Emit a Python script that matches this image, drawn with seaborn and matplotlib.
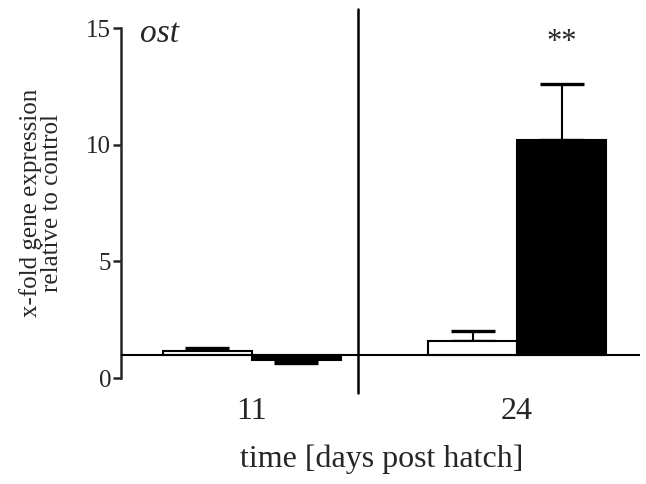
import pandas as pd
import matplotlib
matplotlib.use('Agg')
import matplotlib.pyplot as plt
import seaborn as sns

# values (x-fold relative to control, baseline = 1)
days = ['11', '24']
groups = ['control', 'treated']
control_mean = [1.15, 1.60]
control_err = [0.13, 0.42]
treated_mean = [0.76, 10.2]
treated_err = [0.10, 2.40]
y_ticks = [0, 5, 10, 15]

BASE = 1.0
WIDTH = 0.67


def build_df():
    rows = []
    for i, d in enumerate(days):
        rows.append({'day': d, 'group': 'control', 'fold': control_mean[i]})
        rows.append({'day': d, 'group': 'treated', 'fold': treated_mean[i]})
    df = pd.DataFrame(rows)
    df['height'] = df['fold'] - BASE  # bars drawn from the baseline at 1
    return df


def main():
    sns.set_style('ticks')
    plt.rcParams['font.family'] = ['Liberation Serif', 'DejaVu Serif']

    df = build_df()
    fig = plt.figure(figsize=(6.46, 4.84), dpi=100)
    ax = fig.add_axes([0.187, 0.219, 0.804, 0.723])

    sns.barplot(data=df, x='day', y='height', hue='group', hue_order=groups,
                order=days, palette={'control': 'white', 'treated': 'black'},
                saturation=1, width=WIDTH, errorbar=None, edgecolor='black',
                linewidth=1.5, bottom=BASE, legend=False, ax=ax, zorder=3)

    # one-sided error bars (away from the baseline)
    off = WIDTH / 4
    for i in range(len(days)):
        for sign, mean, err in ((-1, control_mean[i], control_err[i]),
                                (1, treated_mean[i], treated_err[i])):
            yerr = [[0], [err]] if mean >= BASE else [[err], [0]]
            ax.errorbar(i + sign * off, mean, yerr=yerr, fmt='none',
                        ecolor='black', elinewidth=1.5, capsize=16,
                        capthick=2.4, zorder=2)

    ax.axhline(BASE, color='black', lw=1.5, zorder=4)
    ax.axvline(0.4, ymin=-0.043, ymax=1.054, color='black', lw=1.8, clip_on=False)

    ax.set_ylim(0, 15)
    ax.set_xlim(-0.494, 1.464)
    ax.set_yticks(y_ticks)
    sns.despine(ax=ax, bottom=True)
    ax.spines['left'].set_linewidth(1.8)
    ax.tick_params(axis='y', length=6, width=1.8, labelsize=18, pad=1)
    ax.tick_params(axis='x', length=0, labelsize=23, pad=14)

    ax.set_xlabel('time [days post hatch]', fontsize=23)
    ax.xaxis.set_label_coords(0.503, -0.19)
    ax.set_ylabel('x-fold gene expression\nrelative to control', fontsize=18,
                  linespacing=0.9)
    ax.yaxis.set_label_coords(-0.112, 0.5)

    ax.text(-0.423, 14.75, 'ost', style='italic', fontsize=24, va='center', ha='left')
    ax.text(1 + off, 14.4, '**', fontsize=22, va='center', ha='center')

    fig.savefig('out.png', dpi=100)


if __name__ == '__main__':
    main()
